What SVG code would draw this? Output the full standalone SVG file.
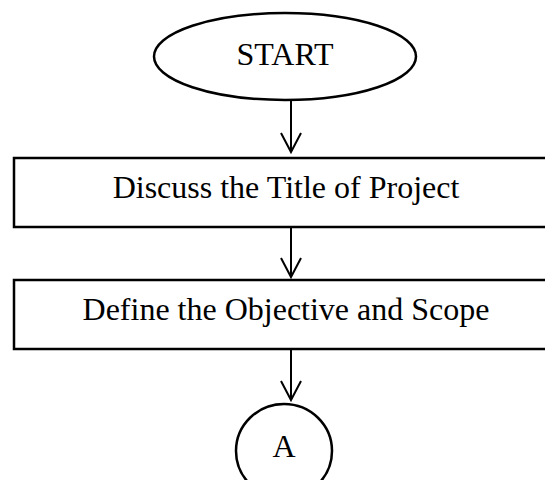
<svg xmlns="http://www.w3.org/2000/svg" width="545" height="480" viewBox="0 0 545 480">
  <style>
    .shape { fill: #ffffff; stroke: #000000; stroke-width: 2.5; }
    .label { font-family: "Liberation Serif", "Times New Roman", serif; font-size: 32px; fill: #000000; text-anchor: middle; }
    .link { fill: none; stroke: #000000; stroke-width: 2; }
  </style>
  <rect width="545" height="480" fill="#ffffff"/>

  <g id="start">
    <ellipse class="shape" cx="285" cy="56.5" rx="131" ry="43.5"/>
    <text class="label" x="285" y="65">START</text>
  </g>

  <g id="discuss-title">
    <rect class="shape" x="14" y="158" width="560" height="69"/>
    <text class="label" x="286" y="198">Discuss the Title of Project</text>
  </g>

  <g id="define-objective">
    <rect class="shape" x="14" y="280" width="560" height="69"/>
    <text class="label" x="286" y="320">Define the Objective and Scope</text>
  </g>

  <g id="connector-a">
    <ellipse class="shape" cx="284" cy="451" rx="48" ry="47"/>
    <text class="label" x="284" y="457">A</text>
  </g>

  <g id="connectors">
    <path class="link" d="M291 100 V152 M281 133 L291 152 L301 133"/>
    <path class="link" d="M291 227 V277 M281 258 L291 277 L301 258"/>
    <path class="link" d="M291 349 V400 M281 381 L291 400 L301 381"/>
  </g>
</svg>
